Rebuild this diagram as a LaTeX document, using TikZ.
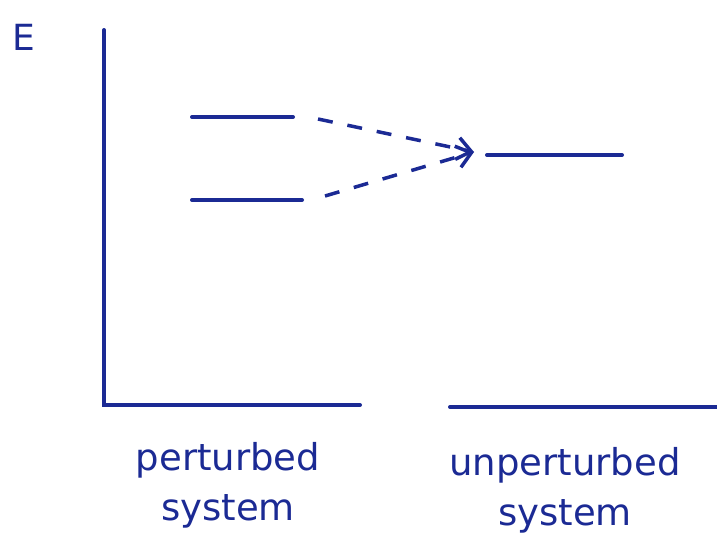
\documentclass[tikz,border=0pt]{standalone}
\usepackage{fontspec}
\setmainfont{DejaVu Sans}
\usetikzlibrary{arrows.meta}
\definecolor{ink}{HTML}{1B2A94}
\begin{document}
\begin{tikzpicture}[x=1pt,y=-1pt,
  ink line/.style={draw=ink,line width=4pt,line cap=round},
  level/.style={ink line},
  dashline/.style={draw=ink,line width=3.5pt,dash pattern=on 15pt off 15pt,-{Straight Barb[length=14pt,width=22pt,line width=3.5pt]}},
  lbl/.style={text=ink,font=\fontsize{37}{50}\selectfont,align=center}]
\useasboundingbox (0,0) rectangle (717,552);
% axes
\coordinate (ytop) at (104,30);
\coordinate (orig) at (104,405);
\coordinate (xend) at (360,405);
\coordinate (b1) at (450,407);
\coordinate (b2) at (717,407);
\draw[ink line] (ytop) -- (orig) -- (xend);
\draw[ink line] (b1) -- (b2);
% levels
\coordinate (u1) at (192,117); \coordinate (u2) at (293,117);
\coordinate (l1) at (192,200); \coordinate (l2) at (302,200);
\coordinate (n1) at (487,155); \coordinate (n2) at (622,155);
\draw[level] (u1) -- (u2);
\draw[level] (l1) -- (l2);
\draw[level] (n1) -- (n2);
% dashed arrows
\coordinate (ds1) at (318,119);
\coordinate (ds2) at (325,196);
\coordinate (tip) at (474,152);
\draw[dashline] (ds1) -- (tip);
\draw[dashline] (ds2) -- (tip);
% labels
\node[lbl,font=\fontsize{36}{40}\selectfont] (E) at (24,37) {E};
\node[lbl] (pl) at (228,485) {perturbed\\system};
\node[lbl] (ul) at (565,490) {unperturbed\\system};
\end{tikzpicture}
\end{document}
